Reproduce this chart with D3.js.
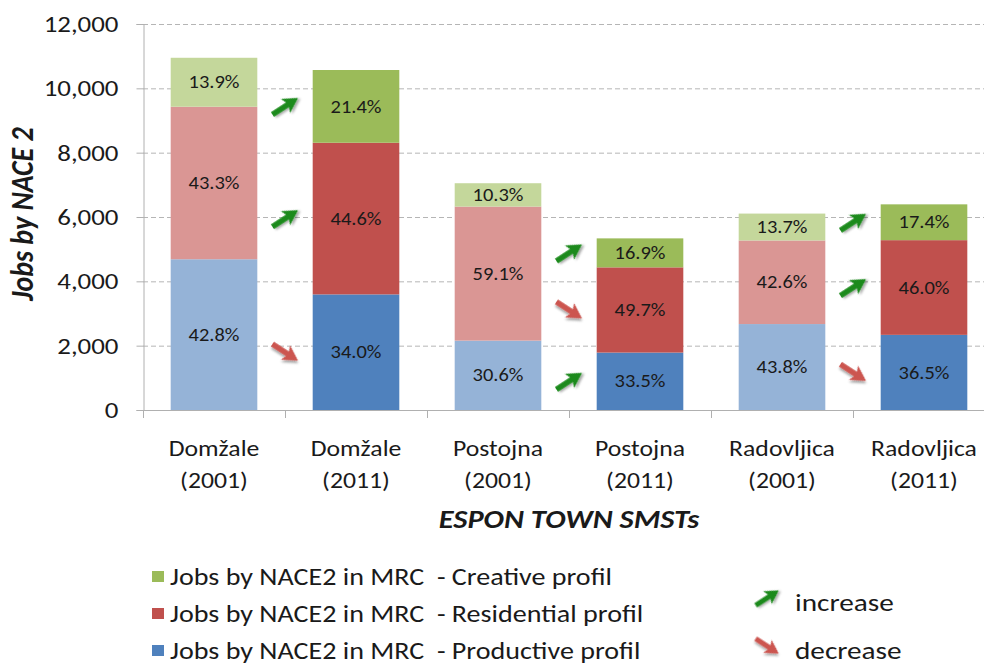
<!DOCTYPE html>
<html lang="en">
  <head>
    <meta charset="utf-8"/>
    <script src="https://d3js.org/d3.v7.min.js"></script>
    <title>Jobs by NACE 2</title>
    <style>
      body { margin: 0; background: #fff; }
      text { font-family: Carlito, Calibri, Lato, sans-serif; fill: #1a1a1a; }
    </style>
  </head>
  <body>
    <svg id="chart"></svg>

    <script>
      const width = 984;
      const height = 666;

      // data
      const towns = ["Domžale", "Domžale", "Postojna", "Postojna", "Radovljica", "Radovljica"];
      const years = ["(2001)", "(2011)", "(2001)", "(2011)", "(2001)", "(2011)"];
      const totals = [10950, 10570, 7050, 5330, 6100, 6400];
      const productive = [42.8, 34.0, 30.6, 33.5, 43.8, 36.5];
      const residential = [43.3, 44.6, 59.1, 49.7, 42.6, 46.0];
      const creative = [13.9, 21.4, 10.3, 16.9, 13.7, 17.4];
      const yTicks = [0, 2000, 4000, 6000, 8000, 10000, 12000];

      const profiles = ["productive", "residential", "creative"];
      const shares = { productive: productive, residential: residential, creative: creative };
      const legendLabels = [
        "Jobs by NACE2 in MRC  - Creative profil",
        "Jobs by NACE2 in MRC  - Residential profil",
        "Jobs by NACE2 in MRC  - Productive profil"
      ];
      // 2001 bars light, 2011 bars full
      const colLight = { productive: "#95b3d7", residential: "#da9694", creative: "#c4d79b" };
      const colFull = { productive: "#4f81bd", residential: "#c0504d", creative: "#9bbb59" };
      const upColor = "#1e8a1e";
      const downColor = "#cc5550";

      const plotLeft = 143, plotRight = 995, plotTop = 24, plotBottom = 410;
      // the source picture is a bit wider than tall, text looks stretched
      const sx = 1.17;

      function place(x, y) {
        return "translate(" + x + "," + y + ") scale(" + sx + ",1)";
      }

      let svg = d3.select("#chart")
          .attr("width", width)
          .attr("height", height);

      let defs = svg.append("defs");
      defs.append("filter")
          .attr("id", "shadow")
          .attr("x", "-50%").attr("y", "-50%")
          .attr("width", "200%").attr("height", "200%")
        .append("feDropShadow")
          .attr("dx", 1.5).attr("dy", 2)
          .attr("stdDeviation", 1.2)
          .attr("flood-color", "#000")
          .attr("flood-opacity", 0.35);

      let idx = d3.range(towns.length);

      let xScale = d3.scaleBand()
          .domain(idx)
          .range([plotLeft, plotRight])
          .paddingInner(0.39)
          .paddingOuter(0.195);

      let yScale = d3.scaleLinear()
          .domain([0, 12000])
          .range([plotBottom, plotTop]);

      // gridlines
      svg.append("g")
          .selectAll("line")
          .data(yTicks.filter(d => d > 0))
          .join("line")
          .attr("x1", plotLeft)
          .attr("x2", width)
          .attr("y1", d => yScale(d) + 0.5)
          .attr("y2", d => yScale(d) + 0.5)
          .attr("stroke", "#b5b5b5")
          .attr("stroke-dasharray", "5,3");

      // Y axis
      let yAxis = d3.axisLeft(yScale)
          .tickValues(yTicks)
          .tickFormat(d3.format(","))
          .tickSize(7)
          .tickPadding(18);
      let yAxis_g = svg.append("g")
          .attr("transform", "translate(" + (plotLeft + 0.5) + ",0)")
          .call(yAxis);
      yAxis_g.select(".domain").attr("stroke", "#b0b0b0");
      yAxis_g.selectAll(".tick line").attr("stroke", "#b0b0b0");
      yAxis_g.selectAll(".tick text")
          .attr("x", 0)
          .attr("transform", place(-25, 0))
          .style("font-family", "Carlito, Calibri, Lato, sans-serif")
          .style("font-size", "23px")
          .attr("fill", "#1a1a1a");

      // X baseline and category boundary ticks
      svg.append("line")
          .attr("x1", plotLeft)
          .attr("x2", width)
          .attr("y1", plotBottom + 0.5)
          .attr("y2", plotBottom + 0.5)
          .attr("stroke", "#b0b0b0");
      svg.append("g")
          .selectAll("line")
          .data(d3.range(towns.length + 1))
          .join("line")
          .attr("x1", i => plotLeft + i * xScale.step() + 0.5)
          .attr("x2", i => plotLeft + i * xScale.step() + 0.5)
          .attr("y1", plotBottom)
          .attr("y2", plotBottom + 8)
          .attr("stroke", "#b0b0b0");

      // stacked segments
      let segments = [];
      idx.forEach(function(i) {
        let acc = 0;
        profiles.forEach(function(p) {
          let v = totals[i] * shares[p][i] / 100;
          segments.push({ i: i, profile: p, y0: acc, y1: acc + v, share: shares[p][i] });
          acc += v;
        });
      });

      let bars = svg.append("g");
      bars.selectAll("rect")
          .data(segments)
          .join("rect")
          .attr("x", d => xScale(d.i))
          .attr("width", xScale.bandwidth())
          .attr("y", d => yScale(d.y1))
          .attr("height", d => yScale(d.y0) - yScale(d.y1))
          .attr("fill", d => d.i % 2 === 0 ? colLight[d.profile] : colFull[d.profile]);

      bars.selectAll("text")
          .data(segments)
          .join("text")
          .attr("transform", d => place(xScale(d.i) + xScale.bandwidth() / 2, (yScale(d.y0) + yScale(d.y1)) / 2))
          .attr("dy", "0.35em")
          .attr("text-anchor", "middle")
          .style("font-size", "17.5px")
          .text(d => d.share.toFixed(1) + "%");

      // arrow pointing right, centred on origin
      const arrowPath = "M-15,-2.8 L3,-2.8 L0.5,-8.5 L15.5,0 L0.5,8.5 L3,2.8 L-15,2.8 Z";

      // arrows between 2001 and 2011 bars, direction from the change in share
      let arrows = [];
      segments.filter(d => d.i % 2 === 1).forEach(function(d) {
        let prev = shares[d.profile][d.i - 1];
        arrows.push({
          x: plotLeft + d.i * xScale.step(),
          y: (yScale(d.y0) + yScale(d.y1)) / 2,
          up: d.share > prev
        });
      });

      svg.append("g")
          .selectAll("path")
          .data(arrows)
          .join("path")
          .attr("d", arrowPath)
          .attr("transform", d => "translate(" + d.x + "," + d.y + ") rotate(" + (d.up ? -33 : 33) + ")")
          .attr("fill", d => d.up ? upColor : downColor)
          .attr("filter", "url(#shadow)");

      // X labels
      let xl = svg.append("g");
      xl.selectAll("text.town")
          .data(idx)
          .join("text")
          .attr("class", "town")
          .attr("transform", i => place(xScale(i) + xScale.bandwidth() / 2, 456))
          .attr("text-anchor", "middle")
          .style("font-size", "22px")
          .text(i => towns[i]);
      xl.selectAll("text.year")
          .data(idx)
          .join("text")
          .attr("class", "year")
          .attr("transform", i => place(xScale(i) + xScale.bandwidth() / 2, 488))
          .attr("text-anchor", "middle")
          .style("font-size", "22px")
          .text(i => years[i]);

      svg.append("text")
          .attr("transform", place((plotLeft + plotRight) / 2, 528))
          .attr("text-anchor", "middle")
          .style("font-size", "26px")
          .style("font-weight", "bold")
          .style("font-style", "italic")
          .text("ESPON TOWN SMSTs");

      svg.append("text")
          .attr("transform", "translate(33,214) scale(" + sx + ",1) rotate(-90)")
          .attr("text-anchor", "middle")
          .style("font-size", "28px")
          .style("font-weight", "bold")
          .style("font-style", "italic")
          .text("Jobs by NACE 2");

      // legend
      let legendCols = [colFull.creative, colFull.residential, colFull.productive];
      let lg = svg.append("g");
      lg.selectAll("rect")
          .data(legendLabels)
          .join("rect")
          .attr("x", 152)
          .attr("y", (d, i) => 571 + i * 37)
          .attr("width", 12)
          .attr("height", 11)
          .attr("fill", (d, i) => legendCols[i]);
      lg.selectAll("text")
          .data(legendLabels)
          .join("text")
          .attr("transform", (d, i) => place(170, 577 + i * 37))
          .attr("dy", "0.35em")
          .style("font-size", "24px")
          .style("white-space", "pre")
          .text(d => d);

      let keys = [{ up: true, label: "increase", y: 602 }, { up: false, label: "decrease", y: 650 }];
      lg.selectAll("path")
          .data(keys)
          .join("path")
          .attr("d", arrowPath)
          .attr("transform", d => "translate(767," + (d.y - 4) + ") scale(0.9) rotate(" + (d.up ? -33 : 33) + ")")
          .attr("fill", d => d.up ? upColor : downColor)
          .attr("filter", "url(#shadow)");
      lg.selectAll("text.key")
          .data(keys)
          .join("text")
          .attr("class", "key")
          .attr("transform", d => place(795, d.y))
          .attr("dy", "0.35em")
          .style("font-size", "25px")
          .text(d => d.label);
    </script>
  </body>
</html>
